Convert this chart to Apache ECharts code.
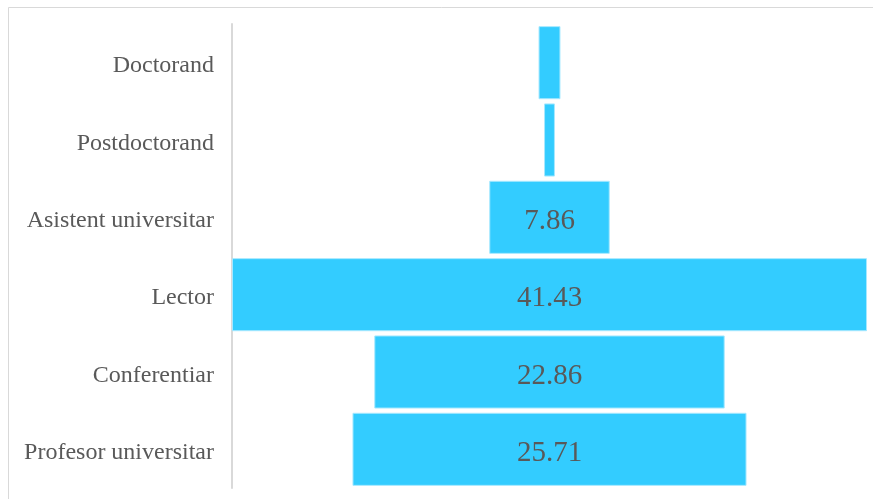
<!DOCTYPE html>
<html>
<head>
<meta charset="utf-8">
<script src="https://cdn.jsdelivr.net/npm/echarts@6/dist/echarts.min.js"></script>
<style>html,body{margin:0;padding:0;background:#fff;}#c{width:873px;height:499px;}</style>
</head>
<body>
<div id="c"></div>
<script>
const categories = ['Doctorand', 'Postdoctorand', 'Asistent universitar', 'Lector', 'Conferentiar', 'Profesor universitar'];
const values = [1.43, 0.71, 7.86, 41.43, 22.86, 25.71];
const labelMin = 5;

const maxV = Math.max(...values);
const offsets = values.map(v => (maxV - v) / 2);

const chart = echarts.init(document.getElementById('c'), null, {renderer: 'canvas'});
chart.setOption({
  animation: false,
  backgroundColor: '#ffffff',
  graphic: [{
    type: 'rect', silent: true, z: -10,
    shape: {x: 8.5, y: 7.5, width: 900, height: 600},
    style: {fill: 'none', stroke: '#d9d9d9', lineWidth: 1}
  }],
  grid: {left: 232, right: 6, top: 24, bottom: 11},
  xAxis: {type: 'value', min: 0, max: maxV, show: false},
  yAxis: {
    type: 'category', data: categories, inverse: true,
    axisLine: {show: true, lineStyle: {color: '#d9d9d9', width: 2}},
    axisTick: {show: false},
    axisLabel: {
      margin: 18,
      formatter: v => '{a|' + v + '}',
      rich: {a: {color: '#595959', fontFamily: 'Liberation Serif', fontSize: 24, padding: [7, 0, 0, 0]}}
    }
  },
  series: [
    {type: 'bar', stack: 'f', data: offsets, itemStyle: {color: 'transparent'}, barCategoryGap: '5.5%', silent: true},
    {type: 'bar', stack: 'f', barCategoryGap: '5.5%',
      data: values.map(v => ({value: v, label: {show: v >= labelMin}})),
      itemStyle: {color: '#33ccff', borderColor: '#a6e8ff', borderWidth: 1},
      label: {position: 'inside', color: '#595959', fontFamily: 'Liberation Serif', fontSize: 29, offset: [0, 4],
        formatter: p => p.value.toFixed(2)}
    }
  ]
});
</script>
</body>
</html>
